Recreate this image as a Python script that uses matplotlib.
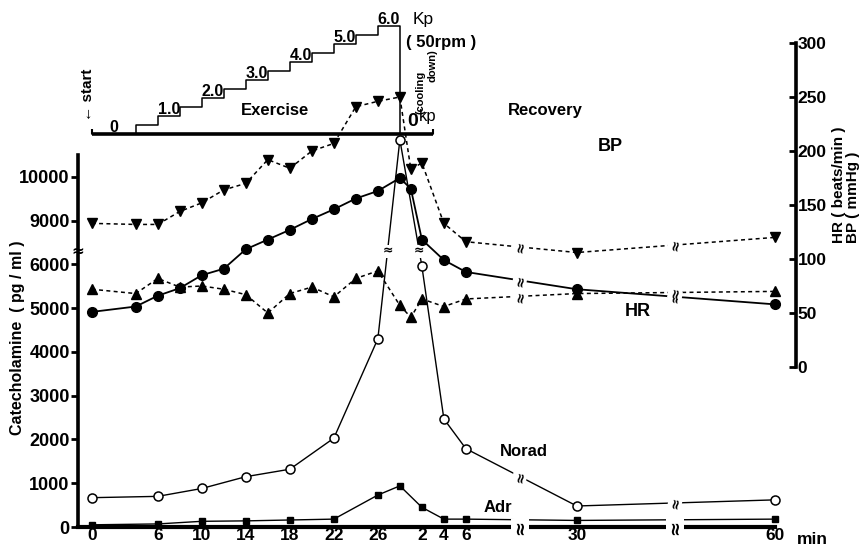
import numpy as np
import matplotlib.pyplot as plt

plt.rcParams['font.family'] = ['Liberation Sans', 'DejaVu Sans']
plt.rcParams['font.weight'] = 'bold'

# ---- values ----
# HR / BP sampled every 2 min during exercise, then in recovery
ex_min = [0, 4, 6, 8, 10, 12, 14, 16, 18, 20, 22, 24, 26, 28]
rec_min = [1, 2, 4, 6, 30, 60]
hr = [51, 56, 66, 73, 85, 91, 109, 118, 127, 137, 146, 156, 163, 175,
      165, 118, 99, 88, 72, 58]
bp_sys = [133, 132, 132, 144, 152, 164, 170, 192, 184, 200, 207, 241, 246, 250,
          183, 189, 133, 116, 106, 120]
bp_dia = [72, 68, 82, 74, 75, 72, 67, 50, 68, 74, 65, 82, 89, 57,
          46, 63, 56, 63, 68, 70]

# catecholamines (pg/ml)
cat_ex_min = [0, 6, 10, 14, 18, 22, 26, 28]
cat_rec_min = [2, 4, 6, 30, 60]
norad = [670, 700, 880, 1150, 1320, 2030, 4300, 10850, 5960, 2470, 1790, 480, 620]
adr = [50, 70, 130, 140, 160, 180, 730, 940, 450, 180, 180, 150, 180]

# ergometer work load (Kp), cooling down until 3 min of recovery
load_min = [0, 4, 6, 8, 10, 12, 14, 16, 18, 20, 22, 24, 26, 28, 31]
load_kp = [0, 0.5, 1.0, 1.5, 2.0, 2.5, 3.0, 3.5, 4.0, 4.5, 5.0, 5.5, 6.0, 0, 0]

xtick_ex = [0, 6, 10, 14, 18, 22, 26]
xtick_rec = [2, 4, 6, 30, 60]
ytick_cat = [0, 1000, 2000, 3000, 4000, 5000, 6000, 9000, 10000]
ytick_hr = [0, 50, 100, 150, 200, 250, 300]

EX_END = 28


# broken time axis: recovery 6->30 and 30->60 are squeezed
def x_fwd(t):
    t = np.asarray(t, float)
    return np.where(t <= 34, t,
                    np.where(t <= 58, 34 + (t - 34) * 0.42, 44.08 + (t - 58) * 0.6))


def x_inv(u):
    u = np.asarray(u, float)
    return np.where(u <= 34, u,
                    np.where(u <= 44.08, 34 + (u - 34) / 0.42, 58 + (u - 44.08) / 0.6))


# broken catecholamine axis: 6000..9000 squeezed
def y_fwd(v):
    v = np.asarray(v, float)
    return np.where(v <= 6000, v, np.where(v <= 9000, 6000 + (v - 6000) / 3, v - 2000))


def y_inv(p):
    p = np.asarray(p, float)
    return np.where(p <= 6000, p, np.where(p <= 7000, 6000 + (p - 6000) * 3, p + 2000))


W, H = 863, 546


def fx(px):
    return px / W


def fy(py):
    return 1 - py / H


def label(px, py, s, **kw):
    fig.text(fx(px), fy(py), s, ha=kw.pop('ha', 'center'), va=kw.pop('va', 'center'), **kw)


fig = plt.figure(figsize=(W / 100, H / 100), dpi=100)
L, R = 78, 796
ax = fig.add_axes([fx(L), fy(527), fx(R) - fx(L), fy(155) - fy(527)])
ax2 = fig.add_axes([fx(L), fy(367), fx(R) - fx(L), fy(43) - fy(367)])
ax3 = fig.add_axes([fx(L), fy(134), fx(R) - fx(L), fy(26) - fy(134)])

x_min, x_max = -1.25, 91.2
for a in (ax, ax2, ax3):
    a.set_xscale('function', functions=(x_fwd, x_inv))
    a.set_xlim(x_min, x_max)
    a.patch.set_visible(False)

ax.set_yscale('function', functions=(y_fwd, y_inv))
ax.set_ylim(0, 10500)
ax2.set_ylim(0, 300)
ax3.set_ylim(0, 6)

t_hr = np.concatenate([ex_min, EX_END + np.array(rec_min)])
t_cat = np.concatenate([cat_ex_min, EX_END + np.array(cat_rec_min)])

# catecholamines on the left axis
ax.plot(t_cat, norad, '-o', color='black', mfc='white', mec='black', ms=6.5, mew=1.1,
        lw=1.0, clip_on=False, zorder=3)
ax.plot(t_cat, adr, '-s', color='black', ms=4.5, lw=1.0, clip_on=False, zorder=3)

# HR and BP on the right axis
dash = (0, (2.6, 2.2))
ax2.plot(t_hr, hr, '-o', color='black', ms=7, lw=1.3, clip_on=False)
ax2.plot(t_hr, bp_sys, marker='v', ls=dash, color='black', ms=7, lw=1.1, clip_on=False)
ax2.plot(t_hr, bp_dia, marker='^', ls=dash, color='black', ms=7, lw=1.1, clip_on=False)

# work load staircase
ax3.step(load_min, load_kp, where='post', color='black', lw=1.1, clip_on=False)
ax3.plot([load_min[0], load_min[-1]], [0, 0], color='black', lw=2.6,
         solid_capstyle='butt', clip_on=False)
ax3.vlines([load_min[0], load_min[-1]], 0, 0.3, color='black', lw=1.5, clip_on=False)
for i in range(len(load_kp) - 2):
    k = load_kp[i]
    if k == int(k):
        txt = '0' if k == 0 else f'{k:.1f}'
        ax3.text((load_min[i] + load_min[i + 1]) / 2, k + 0.12, txt, ha='center',
                 va='baseline', fontsize=11.5)
ax3.text(29.2, 6.12, 'Kp', ha='left', va='baseline', fontsize=12.5, fontweight='normal')
ax3.axis('off')

# axes styling
for s in ('top', 'right'):
    ax.spines[s].set_visible(False)
ax.spines['left'].set_linewidth(2.6)
ax.spines['bottom'].set_linewidth(3.0)
ax.spines['bottom'].set_bounds(x_min, EX_END + rec_min[-1])
ax.set_yticks(ytick_cat)
ax.set_yticklabels([str(v) for v in ytick_cat])
ax.tick_params(axis='y', direction='out', length=5, width=2, pad=1, labelsize=13)
ax.set_xticks(list(xtick_ex) + [EX_END + r for r in xtick_rec])
ax.set_xticklabels([str(v) for v in xtick_ex + xtick_rec])
ax.tick_params(axis='x', length=0, pad=1, labelsize=12.5)

for s in ('top', 'left', 'bottom'):
    ax2.spines[s].set_visible(False)
ax2.spines['right'].set_linewidth(2.6)
ax2.yaxis.tick_right()
ax2.set_yticks(ytick_hr)
ax2.set_xticks([])
ax2.tick_params(axis='y', direction='in', length=5, width=2, pad=1, labelsize=12.5)

fig.canvas.draw()


# break marks along lines
def mark_x_break(a, t, v, tb):
    pts = a.transData.transform(np.column_stack([t, v]))
    xb = a.transData.transform((tb, 0))[0]
    for (x0, y0), (x1, y1) in zip(pts[:-1], pts[1:]):
        if x0 < xb < x1:
            yb = y0 + (xb - x0) / (x1 - x0) * (y1 - y0)
            xd, yd = a.transData.inverted().transform((xb, yb))
            a.text(xd, yd, '≈', rotation=80, ha='center', va='center', fontsize=10,
                   family='DejaVu Sans', bbox=dict(fc='white', ec='none', pad=0),
                   clip_on=False, zorder=5)


def mark_y_break(a, t, v, vb):
    pts = a.transData.transform(np.column_stack([t, v]))
    yb = a.transData.transform((0, vb))[1]
    for (x0, y0), (x1, y1) in zip(pts[:-1], pts[1:]):
        if min(y0, y1) < yb < max(y0, y1):
            xb = x0 + (yb - y0) / (y1 - y0) * (x1 - x0)
            xd, yd = a.transData.inverted().transform((xb, yb))
            a.text(xd, yd, '≈', ha='center', va='center', fontsize=9,
                   family='DejaVu Sans', bbox=dict(fc='white', ec='none', pad=0),
                   clip_on=False, zorder=5)


x_breaks = x_inv([38.9, 53.0])
y_break = 6900
for tb in x_breaks:
    mark_x_break(ax, t_cat, norad, tb)
    for series in (hr, bp_sys, bp_dia):
        mark_x_break(ax2, t_hr, series, tb)
    ax.text(tb, 0, '≈', rotation=90, ha='center', va='center', fontsize=13,
            family='DejaVu Sans', bbox=dict(fc='white', ec='none', pad=0), clip_on=False,
            zorder=5)
mark_y_break(ax, t_cat, norad, y_break)
ax.text(x_min, y_break, '≈', ha='center', va='center', fontsize=11, family='DejaVu Sans',
        clip_on=False)

# annotations
label(18, 338, 'Catecholamine  ( pg / ml )', rotation=90, fontsize=11.5)
label(610, 147, 'BP', fontsize=13)
label(638, 312, 'HR', fontsize=13)
label(524, 452, 'Norad', fontsize=12)
label(498, 508, 'Adr', fontsize=12)
label(797, 539, 'min', fontsize=12.5, ha='left')
label(275, 111, 'Exercise', fontsize=12)
label(545, 110, 'Recovery', fontsize=12)
label(441, 42, '( 50rpm )', fontsize=12)
label(88, 95, '← start', rotation=90, fontsize=11)
label(420, 92, '(cooling', rotation=90, fontsize=8)
label(432, 66, 'down)', rotation=90, fontsize=8)
label(413, 122, '0', fontsize=14)
label(428, 117, 'kp', fontsize=12, fontweight='normal')
label(839, 243, 'HR ( beats/min )', rotation=90, va='bottom', fontsize=11)
label(853, 243, 'BP ( mmHg )', rotation=90, va='bottom', fontsize=11)

fig.savefig('out.png', dpi=100)
